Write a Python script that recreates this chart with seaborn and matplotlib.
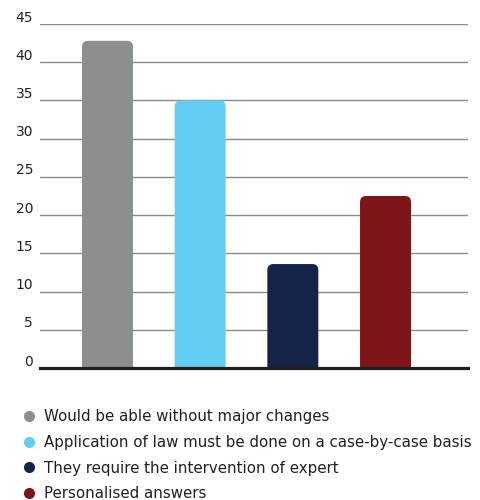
import matplotlib
matplotlib.use("Agg")
import matplotlib.pyplot as plt
from matplotlib.patches import FancyBboxPatch
from matplotlib.lines import Line2D
from matplotlib.transforms import ScaledTranslation
import seaborn as sns
import pandas as pd

categories = [
    "Would be able without major changes",
    "Application of law must be done on a case-by-case basis",
    "They require the intervention of expert",
    "Personalised answers",
]
values = [42.8, 35.0, 13.6, 22.5]
colors = ["#8c8f8f", "#63cdf4", "#142448", "#7e1519"]
y_ticks = [0, 5, 10, 15, 20, 25, 30, 35, 40, 45]

sns.set_theme(style="white")
plt.rcParams["font.family"] = ["DejaVu Sans"]

df = pd.DataFrame({"category": categories, "value": values})

fig = plt.figure(figsize=(4.8, 5.0), dpi=100)
ax = fig.add_axes([40 / 480, 1 - 368 / 500, 428 / 480, 344 / 500])

sns.barplot(data=df, x="category", y="value", hue="category",
            palette=colors, order=categories, hue_order=categories,
            width=0.55, legend=False, ax=ax, saturation=1)

ax.set_xlim(-0.728, 3.89)
ax.set_ylim(0, 45)

# swap the plain rectangles for bars with rounded tops
x_per_px = (3.89 + 0.728) / 428
y_per_px = 45 / 344
for bar in list(ax.patches):
    x, w, h = bar.get_x(), bar.get_width(), bar.get_height()
    fc = bar.get_facecolor()
    bar.remove()
    rounded = FancyBboxPatch((x, -2), w, h + 2,
                             boxstyle=f"round,pad=0,rounding_size={6 * x_per_px}",
                             mutation_aspect=y_per_px / x_per_px,
                             facecolor=fc, edgecolor="none", zorder=2,
                             clip_on=True)
    ax.add_patch(rounded)

ax.set_yticks(y_ticks)
ax.set_yticklabels([str(t) for t in y_ticks])
ax.yaxis.grid(True, color="#8a8a8a", linewidth=1)
ax.set_axisbelow(True)
ax.tick_params(axis="y", length=0, pad=5, labelsize=10, labelcolor="#222222")
offset = ScaledTranslation(0, 8 / 100, fig.dpi_scale_trans)
for lbl in ax.get_yticklabels():
    lbl.set_transform(lbl.get_transform() + offset)
ax.set_xticks([])
ax.set_xlabel("")
ax.set_ylabel("")
for side in ["top", "right", "left"]:
    ax.spines[side].set_visible(False)
ax.spines["bottom"].set_color("#231f20")
ax.spines["bottom"].set_linewidth(2.3)
ax.spines["bottom"].set_zorder(3)

handles = [Line2D([], [], marker="o", linestyle="none", markersize=8,
                  markerfacecolor=c, markeredgecolor="none") for c in colors]
fig.legend(handles, categories, loc="upper left",
           bbox_to_anchor=(21.5 / 480, 1 - 409 / 500), frameon=False,
           fontsize=10.8, labelcolor="#231f20", handletextpad=0.5,
           handlelength=1.0, labelspacing=0.72, borderaxespad=0,
           borderpad=0)

fig.savefig("out.png", dpi=100)
